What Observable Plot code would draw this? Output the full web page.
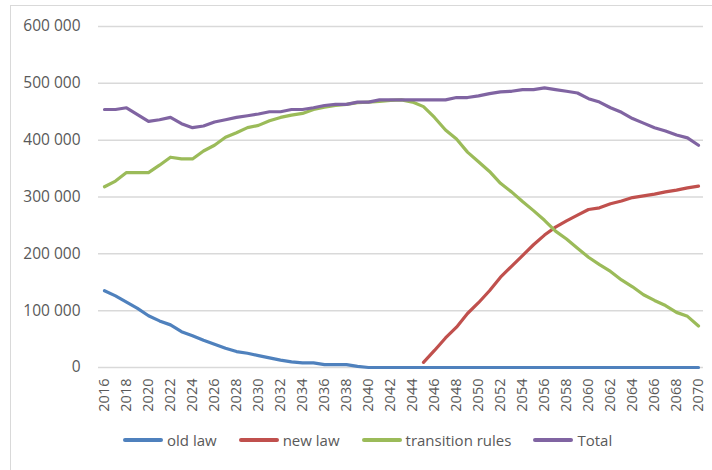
<!DOCTYPE html>
<html>
<head>
<meta charset="utf-8">
<script src="https://cdn.jsdelivr.net/npm/d3@7"></script>
<script src="https://cdn.jsdelivr.net/npm/@observablehq/plot@0.6"></script>
<style>
  html, body { margin: 0; padding: 0; background: #fff; overflow: hidden; }
  body { width: 712px; height: 470px; position: relative; font-family: "Open Sans", sans-serif; }
  #frame { position: absolute; left: 10px; top: 5px; width: 730px; height: 500px; border: 1px solid #d9d9d9; box-sizing: border-box; }
  #chart { position: absolute; left: 0; top: 0; }
  #legend { position: absolute; left: 123px; top: 430px; display: flex; align-items: center; gap: 22px; font-size: 15px; color: #595959; }
  .item { display: flex; align-items: center; gap: 4px; }
  .sw { width: 40px; height: 3.5px; border-radius: 2px; }
</style>
</head>
<body>
<div id="frame"></div>
<div id="chart"></div>
<div id="legend"></div>
<script>
const years = [2016,2017,2018,2019,2020,2021,2022,2023,2024,2025,2026,2027,2028,2029,2030,2031,2032,2033,2034,2035,2036,2037,2038,2039,2040,2041,2042,2043,2044,2045,2046,2047,2048,2049,2050,2051,2052,2053,2054,2055,2056,2057,2058,2059,2060,2061,2062,2063,2064,2065,2066,2067,2068,2069,2070];

// values in thousands
const oldLaw = [135,126,115,104,91,82,75,63,56,48,41,34,28,25,21,17,13,10,8,8,5,5,5,2,0,0,0,0,0,0,0,0,0,0,0,0,0,0,0,0,0,0,0,0,0,0,0,0,0,0,0,0,0,0,0];
const newLawYears = [2045,2046,2047,2048,2049,2050,2051,2052,2053,2054,2055,2056,2057,2058,2059,2060,2061,2062,2063,2064,2065,2066,2067,2068,2069,2070];
const newLaw = [9,30,52,71,95,114,135,159,178,197,216,233,247,258,268,278,281,288,293,299,302,305,309,312,316,319];
const transitionRules = [318,328,343,343,343,356,370,367,367,381,391,405,413,422,426,434,440,444,447,454,458,461,463,466,467,468,470,471,467,459,440,418,402,379,362,345,324,309,292,276,259,240,226,210,194,181,169,154,142,128,118,109,97,90,73];
const total = [454,454,457,445,433,436,440,429,422,425,432,436,440,443,446,450,450,454,454,457,461,463,463,467,467,471,471,471,471,471,471,471,475,475,478,482,485,486,489,489,492,489,486,483,473,467,457,449,438,430,422,416,409,404,391];

const seriesNames = ["old law", "new law", "transition rules", "Total"];
const seriesColors = ["#4F81BD", "#C0504D", "#9BBB59", "#8064A2"];
const yTicks = [0, 100000, 200000, 300000, 400000, 500000, 600000];
const xTicks = [2016,2018,2020,2022,2024,2026,2028,2030,2032,2034,2036,2038,2040,2042,2044,2046,2048,2050,2052,2054,2056,2058,2060,2062,2064,2066,2068,2070];

const rows = [];
years.forEach((y, i) => rows.push({series: "old law", year: y, value: oldLaw[i] * 1000}));
newLawYears.forEach((y, i) => rows.push({series: "new law", year: y, value: newLaw[i] * 1000}));
years.forEach((y, i) => rows.push({series: "transition rules", year: y, value: transitionRules[i] * 1000}));
years.forEach((y, i) => rows.push({series: "Total", year: y, value: total[i] * 1000}));

const fmt = v => d3.format(",")(v).replace(/,/g, " ");

const chart = Plot.plot({
  width: 712,
  height: 430,
  marginLeft: 98,
  marginRight: 9,
  marginTop: 26,
  marginBottom: 63,
  style: { fontFamily: "Open Sans", color: "#595959", background: "transparent", overflow: "visible" },
  x: { domain: [2016, 2070], insetLeft: 6, insetRight: 5 },
  y: { domain: [0, 600000] },
  color: { domain: seriesNames, range: seriesColors },
  marks: [
    Plot.ruleY(yTicks, { stroke: "#d9d9d9", strokeWidth: 1.5 }),
    Plot.axisY({ ticks: yTicks, tickSize: 0, tickPadding: 18, tickFormat: fmt, fontSize: 15.5, label: null, fill: "#595959" }),
    Plot.axisX({ ticks: xTicks, tickSize: 0, tickPadding: 11, tickRotate: -90, tickFormat: d => String(d), fontSize: 14.5, label: null, fill: "#595959" }),
    Plot.line(rows, { x: "year", y: "value", z: "series", stroke: "series", strokeWidth: 3.2, strokeLinejoin: "round", strokeLinecap: "round" })
  ]
});
document.getElementById("chart").appendChild(chart);

const legend = document.getElementById("legend");
seriesNames.forEach((name, i) => {
  const item = document.createElement("div");
  item.className = "item";
  const sw = document.createElement("div");
  sw.className = "sw";
  sw.style.background = seriesColors[i];
  const t = document.createElement("span");
  t.textContent = name;
  item.appendChild(sw);
  item.appendChild(t);
  legend.appendChild(item);
});
</script>
</body>
</html>
